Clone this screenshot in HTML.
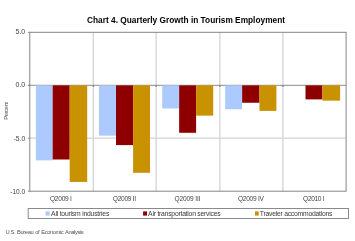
<!DOCTYPE html>
<html><head><meta charset="utf-8">
<style>
html,body{margin:0;padding:0;background:#fff;}
body{width:355px;height:241px;overflow:hidden;position:relative;font-family:"Liberation Sans",sans-serif;}
svg{position:absolute;left:0;top:0;will-change:transform;}
</style></head><body>
<svg width="355" height="241" viewBox="0 0 355 241" font-family="Liberation Sans, sans-serif">
  <!-- title -->
  <text x="186" y="22.7" font-size="9" font-weight="bold" text-anchor="middle" fill="#000" textLength="198" lengthAdjust="spacingAndGlyphs">Chart 4. Quarterly Growth in Tourism Employment</text>
  <!-- gridlines -->
  <g stroke="#d4d4d4" stroke-width="1.3" fill="none">
    <line x1="93.3" y1="32.3" x2="93.3" y2="191.2"/>
    <line x1="156.1" y1="32.3" x2="156.1" y2="191.2"/>
    <line x1="219.9" y1="32.3" x2="219.9" y2="191.2"/>
    <line x1="282.9" y1="32.3" x2="282.9" y2="191.2"/>
    <line x1="29.8" y1="138.15" x2="346.1" y2="138.15"/>
  </g>
  <!-- zero axis -->
  <line x1="28" y1="85.3" x2="346.1" y2="85.3" stroke="#8c8c8c" stroke-width="1"/>
  <!-- bars -->
  <g fill="#ADCAFF">
    <rect x="35.9" y="85.4" width="16.75" height="75.0"/>
    <rect x="98.9" y="85.4" width="17.1" height="50.25"/>
    <rect x="162.2" y="85.4" width="16.95" height="23.1"/>
    <rect x="225.2" y="85.4" width="16.95" height="23.85"/>
  </g>
  <g fill="#8E0000">
    <rect x="52.65" y="85.4" width="17.05" height="74.1"/>
    <rect x="116.0" y="85.4" width="17.1" height="59.7"/>
    <rect x="179.15" y="85.4" width="16.95" height="47.4"/>
    <rect x="242.15" y="85.4" width="17.35" height="17.35"/>
    <rect x="305.5" y="85.4" width="16.9" height="14.0"/>
  </g>
  <g fill="#C99200">
    <rect x="69.7" y="85.4" width="17.5" height="96.55"/>
    <rect x="133.1" y="85.4" width="16.9" height="87.4"/>
    <rect x="196.1" y="85.4" width="17.1" height="30.25"/>
    <rect x="259.5" y="85.4" width="16.9" height="25.5"/>
    <rect x="322.4" y="85.4" width="17.7" height="15.25"/>
  </g>
  <!-- category ticks on zero axis -->
  <g stroke="#777" stroke-width="1">
    <line x1="93.3" y1="84.9" x2="93.3" y2="87.0"/>
    <line x1="156.1" y1="84.9" x2="156.1" y2="87.0"/>
    <line x1="219.9" y1="84.9" x2="219.9" y2="87.0"/>
    <line x1="282.9" y1="84.9" x2="282.9" y2="87.0"/>
  </g>
  <!-- plot border -->
  <rect x="29.8" y="32.3" width="316.3" height="158.9" fill="none" stroke="#858585" stroke-width="1"/>
  <!-- ticks -->
  <g stroke="#858585" stroke-width="1">
    <line x1="27.9" y1="32.3" x2="29.8" y2="32.3"/>
    <line x1="27.9" y1="85.3" x2="29.8" y2="85.3"/>
    <line x1="27.9" y1="138.15" x2="29.8" y2="138.15"/>
    <line x1="27.9" y1="191.2" x2="29.8" y2="191.2"/>
  </g>
  <!-- y labels -->
  <g font-size="7.4" fill="#444" text-anchor="end">
    <text x="25.2" y="34.3" textLength="9.6" lengthAdjust="spacingAndGlyphs">5.0</text>
    <text x="25.2" y="87.3" textLength="9.6" lengthAdjust="spacingAndGlyphs">0.0</text>
    <text x="25.2" y="141.3" textLength="11.6" lengthAdjust="spacingAndGlyphs">-5.0</text>
    <text x="25.2" y="194.1" textLength="15" lengthAdjust="spacingAndGlyphs">-10.0</text>
  </g>
  <text transform="translate(8.4,110.9) rotate(-90)" font-size="6" fill="#555" text-anchor="middle" textLength="17.6" lengthAdjust="spacing">Percent</text>
  <!-- x labels -->
  <g font-size="6.6" fill="#444" text-anchor="middle">
    <text x="60.9" y="201.2" textLength="22" lengthAdjust="spacing">Q2009 I</text>
    <text x="124.5" y="201.2" textLength="23.4" lengthAdjust="spacing">Q2009 II</text>
    <text x="187.5" y="201.2" textLength="26.2" lengthAdjust="spacing">Q2009 III</text>
    <text x="250.9" y="201.2" textLength="26" lengthAdjust="spacing">Q2009 IV</text>
    <text x="313.8" y="201.2" textLength="21.4" lengthAdjust="spacing">Q2010 I</text>
  </g>
  <!-- legend -->
  <rect x="28.2" y="208.5" width="320.3" height="10" fill="#fff" stroke="#8a8a8a" stroke-width="1"/>
  <rect x="45.6" y="211.4" width="4.1" height="4.2" fill="#ADCAFF"/>
  <rect x="143.1" y="211.4" width="3.9" height="4.2" fill="#8E0000"/>
  <rect x="255.0" y="211.4" width="3.7" height="4.2" fill="#C99200"/>
  <g font-size="6.8" fill="#3a3a3a">
    <text x="51.1" y="216" textLength="58.2" lengthAdjust="spacing">All tourism industries</text>
    <text x="148.1" y="216" textLength="72.6" lengthAdjust="spacing">Air transportation services</text>
    <text x="259.8" y="216" textLength="72.6" lengthAdjust="spacing">Traveler accommodations</text>
  </g>
  <text x="5.5" y="234.3" font-size="5.8" fill="#555" letter-spacing="-0.42" word-spacing="0.8">U.S. Bureau of Economic Analysis</text>
</svg>
</body></html>
